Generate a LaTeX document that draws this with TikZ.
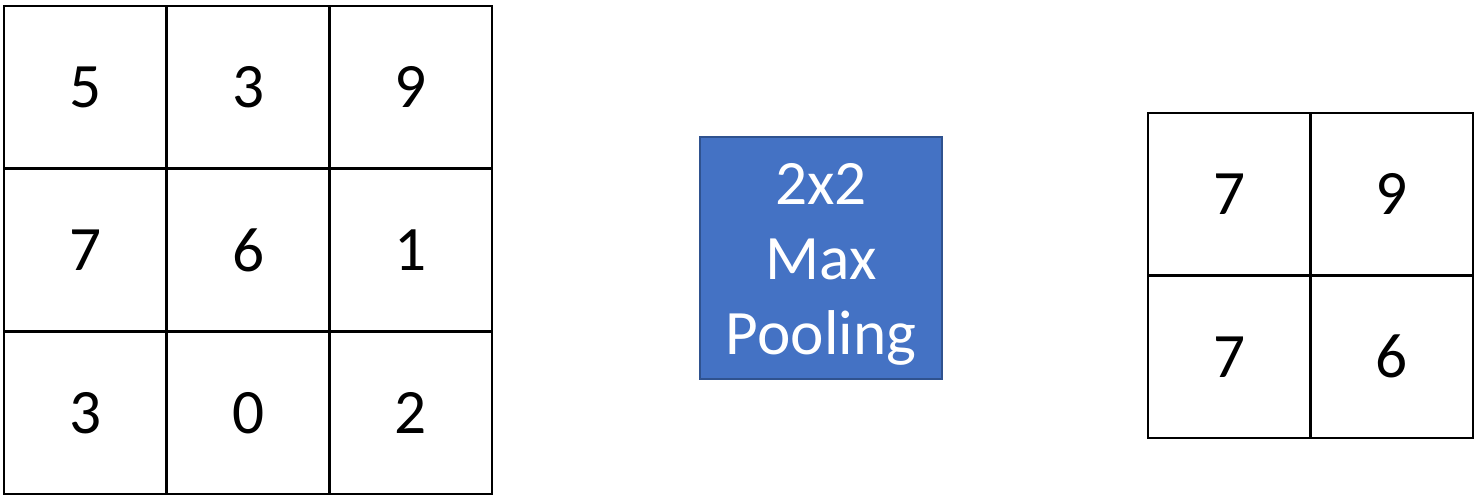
\documentclass[tikz,border=0pt]{standalone}
\usepackage{fontspec}
\setmainfont{Carlito}
\usepackage{tikz}
\usetikzlibrary{positioning}
\definecolor{poolfill}{HTML}{4472C4}
\definecolor{pooldraw}{HTML}{2F528F}
\tikzset{
  cell/.style={rectangle,draw=black,fill=white,line width=1.4pt,minimum size=3.254cm,
    inner sep=0pt,outer sep=0pt,font=\fontsize{36}{41}\selectfont},
  pool/.style={rectangle,draw=pooldraw,fill=poolfill,line width=1.1pt,minimum size=4.84cm,
    inner sep=0pt,outer sep=0pt,text=white,align=center,font=\fontsize{36}{42.5}\selectfont},
}
\begin{document}
\begin{tikzpicture}
\useasboundingbox (0,0) rectangle (29.5,9.92);
% input map, 3x3
\foreach \r/\c/\v in {1/1/5, 1/2/3, 1/3/9, 2/1/7, 2/2/6, 2/3/1, 3/1/3, 3/2/0, 3/3/2}{
  \node[cell] (in-\r-\c) at ({1.707+(\c-1)*3.254},{8.173-(\r-1)*3.254}) {\v};
}
% the operation
\node[pool] (pool) at (16.42,4.76) {\rule{0pt}{1.08cm}2x2\\Max\\Pooling};
% output map, 2x2
\foreach \r/\c/\v in {1/1/7, 1/2/9, 2/1/7, 2/2/6}{
  \node[cell] (out-\r-\c) at ({24.585+(\c-1)*3.25},{6.035-(\r-1)*3.25}) {\v};
}
\end{tikzpicture}
\end{document}
